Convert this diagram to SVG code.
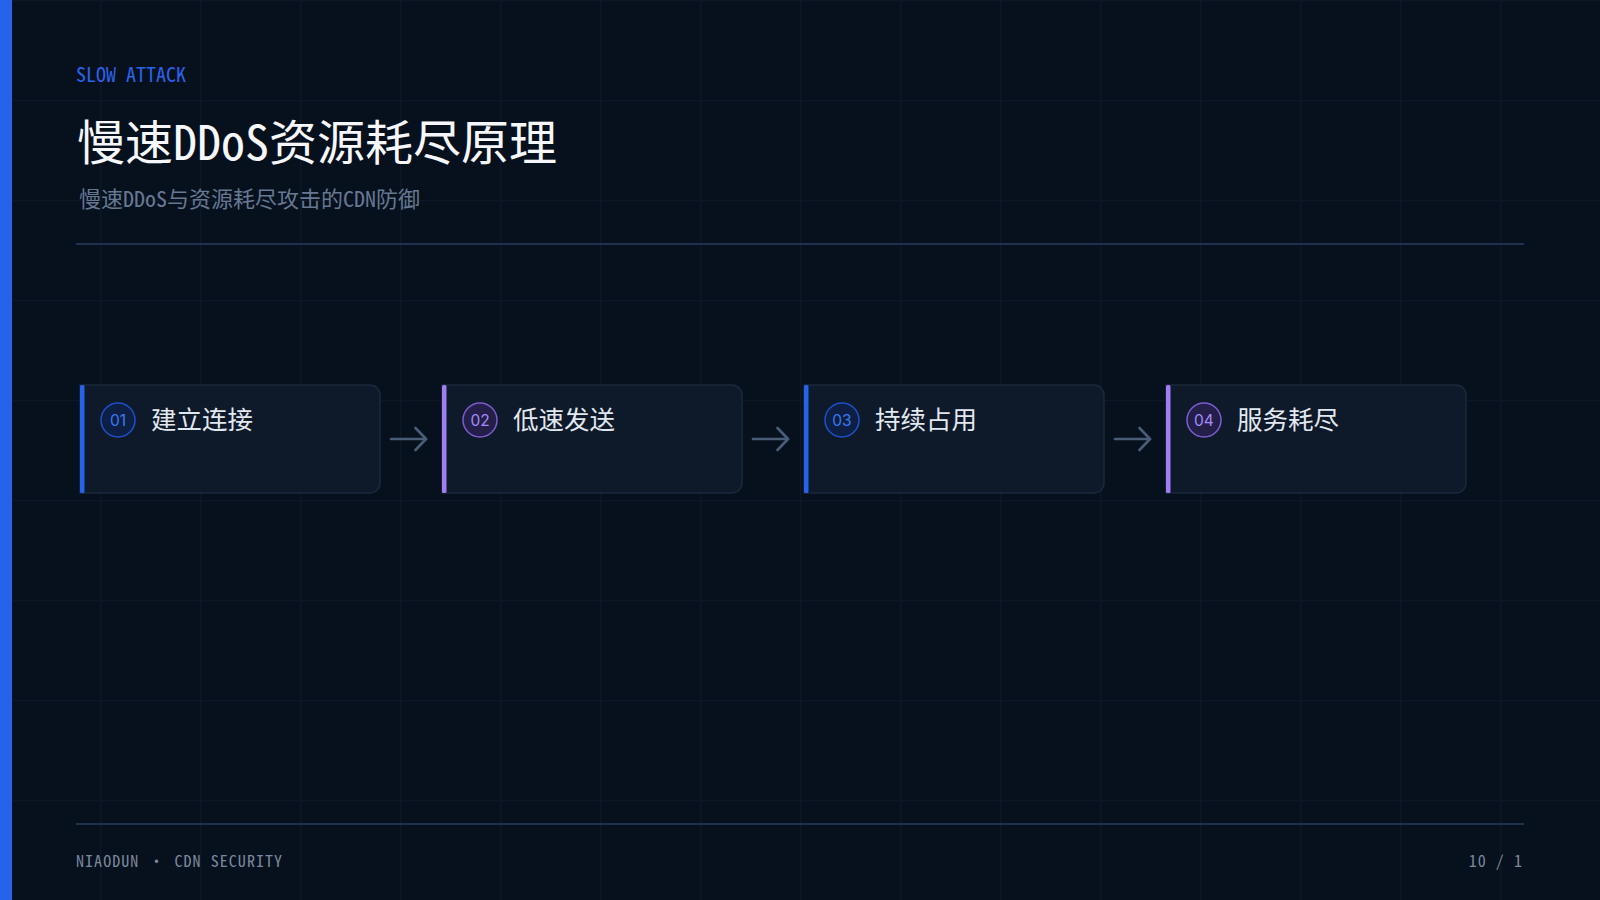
<svg xmlns="http://www.w3.org/2000/svg" width="1600" height="900" viewBox="0 0 1600 900">
<defs>
  <pattern id="grid" width="100" height="100" patternUnits="userSpaceOnUse">
    <path d="M0.5 0 V100 M0 0.5 H100" fill="none" stroke="#0d1727" stroke-width="1.5"/>
  </pattern>
  <marker id="arrowhead" markerUnits="userSpaceOnUse" markerWidth="14" markerHeight="26" viewBox="0 0 14 26" refX="12" refY="13" orient="auto">
    <path d="M1.5 2 L12 13 L1.5 24" fill="none" stroke="#4a5d78" stroke-width="2.6" stroke-linecap="round" stroke-linejoin="round"/>
  </marker>
  <style>
    .mono { font-family: "Noto Sans Mono CJK SC", "Noto Sans CJK SC", "DejaVu Sans Mono", monospace; }
    .kicker { font-size: 20px; fill: #2a63e8; }
    .title { font-size: 48px; fill: #f5f7fa; }
    .subtitle { font-size: 22px; fill: #667892; }
    .foot { font-size: 16px; fill: #7b889c; letter-spacing: 1.05px; }
    .card { fill: #0e1929; stroke: #1b293d; stroke-width: 1.5; }
    .bar-blue { fill: #2563eb; }
    .bar-purple { fill: #a07cf5; }
    .badge-blue { fill: #0d1f44; stroke: #1f4fc9; stroke-width: 1.5; }
    .badge-purple { fill: #231f48; stroke: #7a5ccc; stroke-width: 1.5; }
    .num { font-family: Inter, "Noto Sans", sans-serif; font-size: 15.5px; text-anchor: middle; }
    .num-blue { fill: #3b7bf0; }
    .num-purple { fill: #a78bfa; }
    .label { font-family: "Noto Sans CJK SC", "Noto Sans", sans-serif; font-size: 25.5px; fill: #e2e8f0; }
    .rule { stroke: #1e3250; stroke-width: 2; }
    .conn { fill: none; stroke: #4a5d78; stroke-width: 2.6; stroke-linecap: round; }
  </style>
</defs>
<rect width="1600" height="900" fill="#07101d"/>
<rect width="1600" height="900" fill="url(#grid)"/>
<rect x="0" y="0" width="12" height="900" fill="#2563eb"/>

<g id="header">
  <text class="mono kicker" x="76" y="82">SLOW ATTACK</text>
  <text class="mono title" x="77" y="160">慢速DDoS资源耗尽原理</text>
  <text class="mono subtitle" x="79" y="207">慢速DDoS与资源耗尽攻击的CDN防御</text>
  <line class="rule" x1="76" y1="244" x2="1524" y2="244"/>
</g>

<g id="connectors">
  <path class="conn" d="M391 439 H426" marker-end="url(#arrowhead)"/>
  <path class="conn" d="M753 439 H788" marker-end="url(#arrowhead)"/>
  <path class="conn" d="M1115 439 H1150" marker-end="url(#arrowhead)"/>
</g>

<g id="node-1">
  <path class="card" d="M80 385 H370 A10 10 0 0 1 380 395 V483 A10 10 0 0 1 370 493 H80 Z"/>
  <rect class="bar-blue" x="80" y="385" width="4.5" height="108" rx="1.5"/>
  <circle class="badge-blue" cx="118" cy="420" r="17"/>
  <text class="num num-blue" x="118" y="425.5">01</text>
  <text class="label" x="151" y="429">建立连接</text>
</g>
<g id="node-2">
  <path class="card" d="M442 385 H732 A10 10 0 0 1 742 395 V483 A10 10 0 0 1 732 493 H442 Z"/>
  <rect class="bar-purple" x="442" y="385" width="4.5" height="108" rx="1.5"/>
  <circle class="badge-purple" cx="480" cy="420" r="17"/>
  <text class="num num-purple" x="480" y="425.5">02</text>
  <text class="label" x="513" y="429">低速发送</text>
</g>
<g id="node-3">
  <path class="card" d="M804 385 H1094 A10 10 0 0 1 1104 395 V483 A10 10 0 0 1 1094 493 H804 Z"/>
  <rect class="bar-blue" x="804" y="385" width="4.5" height="108" rx="1.5"/>
  <circle class="badge-blue" cx="842" cy="420" r="17"/>
  <text class="num num-blue" x="842" y="425.5">03</text>
  <text class="label" x="875" y="429">持续占用</text>
</g>
<g id="node-4">
  <path class="card" d="M1166 385 H1456 A10 10 0 0 1 1466 395 V483 A10 10 0 0 1 1456 493 H1166 Z"/>
  <rect class="bar-purple" x="1166" y="385" width="4.5" height="108" rx="1.5"/>
  <circle class="badge-purple" cx="1204" cy="420" r="17"/>
  <text class="num num-purple" x="1204" y="425.5">04</text>
  <text class="label" x="1237" y="429">服务耗尽</text>
</g>

<g id="footer">
  <line class="rule" x1="76" y1="824" x2="1524" y2="824"/>
  <text class="mono foot" x="76" y="867">NIAODUN · CDN SECURITY</text>
  <text class="mono foot" x="1523" y="867" text-anchor="end">10 / 1</text>
</g>
</svg>
